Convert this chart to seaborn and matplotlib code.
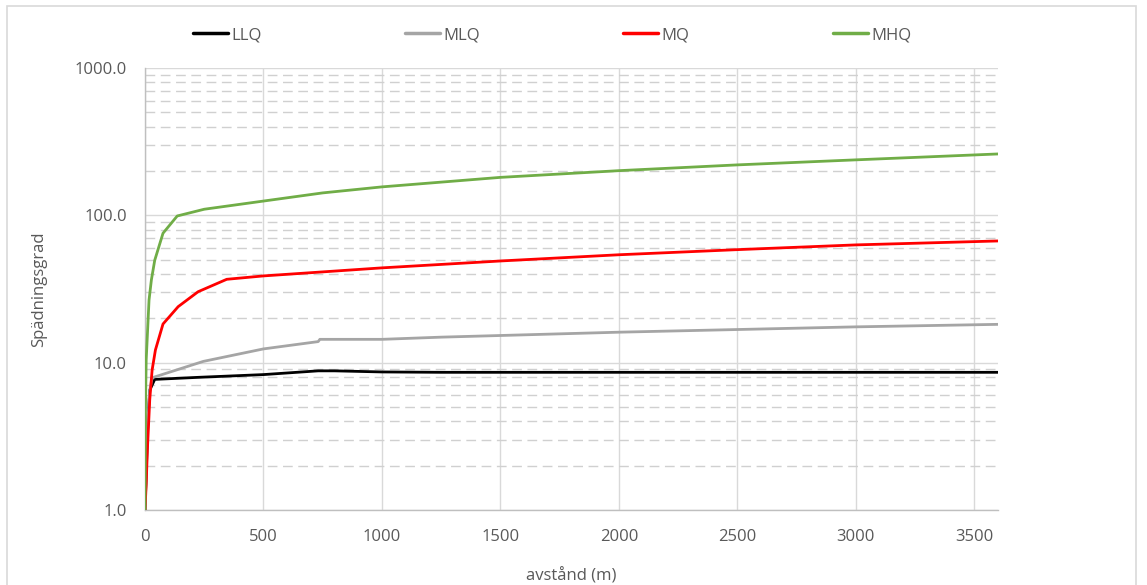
import numpy as np
import pandas as pd
import matplotlib
matplotlib.use("Agg")
import matplotlib.pyplot as plt
from matplotlib.ticker import FixedLocator, FuncFormatter, LogLocator, NullFormatter
from matplotlib.lines import Line2D
from matplotlib.patches import Rectangle
import seaborn as sns

# ---- data ----
series_names = ["LLQ", "MLQ", "MQ", "MHQ"]

LLQ_x = [0, 13, 20, 41, 224, 500, 731, 800, 1000, 1250, 2000, 3000, 3600]
LLQ_y = [1.0, 4.3, 6.5, 7.7, 7.95, 8.3, 8.8, 8.8, 8.65, 8.6, 8.6, 8.6, 8.6]

MLQ_x = [0, 10, 20, 30, 246, 500, 731, 738, 1000, 1250, 2000, 3000, 3600]
MLQ_y = [1.0, 3.5, 6.5, 7.9, 10.2, 12.4, 13.9, 14.4, 14.4, 14.9, 16.1, 17.5, 18.2]

MQ_x = [0, 5, 10, 20, 30, 44, 76, 140, 224, 345, 500, 1000, 1500, 2000, 2500, 3000, 3600]
MQ_y = [1.0, 1.5, 2.55, 5.6, 8.9, 12.2, 18.3, 24, 30.3, 36.8, 38.8, 44, 49, 54, 58.5, 63, 67]

MHQ_x = [0, 2, 5, 17, 27, 41, 76, 136, 250, 500, 750, 1000, 1500, 2000, 2500, 3000, 3600]
MHQ_y = [1.0, 5, 10.4, 26.6, 36.5, 49.5, 75.6, 99, 110, 125, 142, 156, 181, 201, 220, 238, 261]

x_ticks = [0, 500, 1000, 1500, 2000, 2500, 3000, 3500]
y_ticks = [1, 10, 100, 1000]

colors = {"LLQ": "#000000", "MLQ": "#a5a5a5", "MQ": "#ff0000", "MHQ": "#70ad47"}

frames = []
for name, xs, ys in [("LLQ", LLQ_x, LLQ_y), ("MLQ", MLQ_x, MLQ_y),
                     ("MQ", MQ_x, MQ_y), ("MHQ", MHQ_x, MHQ_y)]:
    frames.append(pd.DataFrame({"avstand": xs, "value": ys, "series": name}))
df = pd.concat(frames, ignore_index=True)

# ---- figure ----
sns.set_theme(style="white")
plt.rcParams["font.family"] = ["Open Sans", "DejaVu Sans"]

W, H = 1147, 585
fig = plt.figure(figsize=(W / 100, H / 100), dpi=100)
ax = fig.add_axes([145 / W, (H - 510) / H, (998 - 145) / W, (510 - 68) / H])

# outer chart border
fig.patches.append(Rectangle((7 / W, -0.02), (1136 - 7) / W, (H - 6) / H + 0.02,
                             transform=fig.transFigure, fill=False,
                             edgecolor="#d9d9d9", linewidth=1.2, zorder=0))

ax.set_yscale("log")
ax.set_xlim(0, 3600)
ax.set_ylim(1, 1000)

# grid
ax.yaxis.set_major_locator(FixedLocator(y_ticks))
ax.yaxis.set_minor_locator(LogLocator(base=10, subs=np.arange(2, 10)))
ax.yaxis.set_minor_formatter(NullFormatter())
ax.xaxis.set_major_locator(FixedLocator(x_ticks))
ax.grid(which="major", axis="both", color="#d9d9d9", linewidth=1.0, linestyle="-")
ax.grid(which="minor", axis="y", color="#d0d0d0", linewidth=1.0, linestyle=(0, (7, 4)))
ax.set_axisbelow(True)

sns.lineplot(data=df, x="avstand", y="value", hue="series", palette=colors,
             hue_order=series_names, estimator=None, sort=True, linewidth=2.0,
             legend=False, ax=ax, zorder=3)

ax.yaxis.set_major_formatter(FuncFormatter(lambda v, p: f"{v:.1f}"))
ax.tick_params(axis="both", which="both", length=0, labelsize=12, colors="#595959")
ax.tick_params(axis="y", pad=13)
ax.tick_params(axis="x", pad=14)

for s in ["top", "right"]:
    ax.spines[s].set_visible(False)
for s in ["left", "bottom"]:
    ax.spines[s].set_color("#bfbfbf")
    ax.spines[s].set_linewidth(1.0)

ax.set_xlabel("avstånd (m)", fontsize=12, color="#595959", labelpad=16)
ax.set_ylabel("Spädningsgrad", fontsize=12, color="#595959", labelpad=20)

handles = [Line2D([0], [0], color=colors[n], linewidth=2.5) for n in series_names]
fig.legend(handles, series_names, loc="center", bbox_to_anchor=(552 / W, 1 - 35 / H),
           ncol=4, frameon=False, fontsize=12, handlelength=2.1, handletextpad=0.2,
           columnspacing=8.6, labelcolor="#595959")

fig.savefig("out.png", dpi=100, facecolor="white")
